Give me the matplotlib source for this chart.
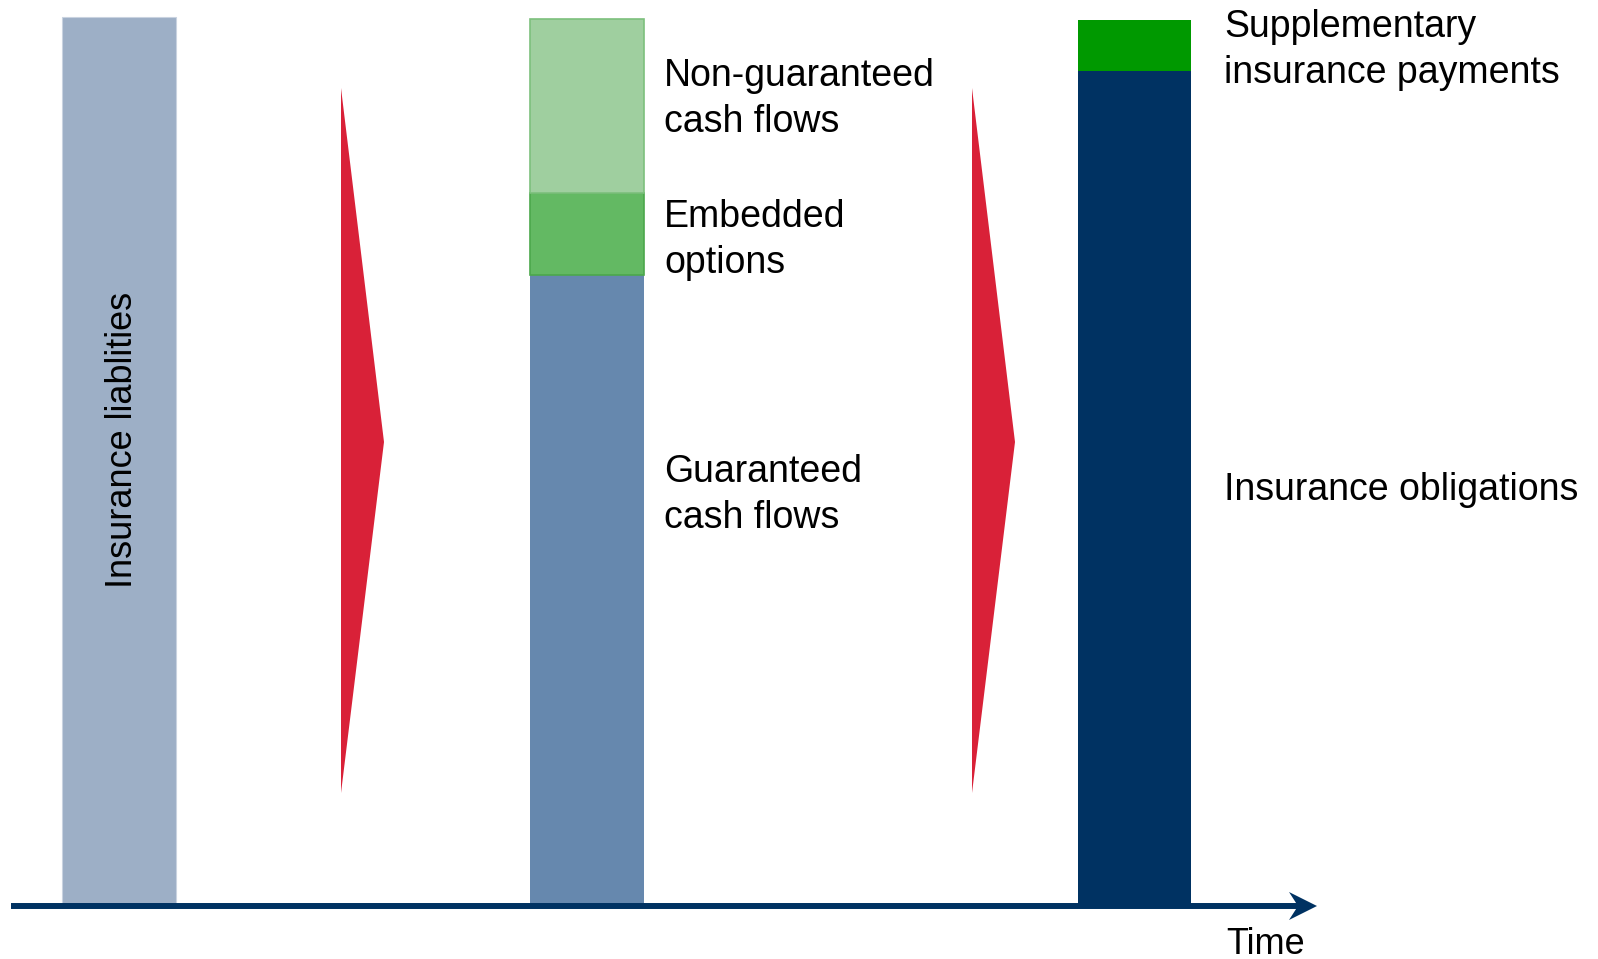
import matplotlib.pyplot as plt
from matplotlib.patches import Polygon

plt.rcParams['font.family'] = ['Liberation Sans', 'DejaVu Sans']

# Balkenpositionen und Segmenthöhen (Einheiten ~ Pixel über der Zeitachse)
bar_x = [119, 587, 1134.5]
bar_w = [114, 114, 113]

liab = [889]
guaranteed = [631]
embedded = [82]
non_guaranteed = [174]
obligations = [835]
supplementary = [51]

labels_mid = ["Non-guaranteed\ncash flows", "Embedded\noptions", "Guaranteed\ncash flows"]
labels_mid_y = [807, 666, 411]
labels_right = ["Supplementary\ninsurance payments", "Insurance obligations"]
labels_right_y = [856, 416]

# rote Pfeile (x links, x Spitze)
chevrons = [(341, 384), (972, 1015)]

fig = plt.figure(figsize=(15.98, 9.59), dpi=100)
ax = fig.add_axes([0, 0, 1, 1])
ax.set_xlim(0, 1598)
ax.set_ylim(-53, 906)
ax.axis('off')

# Balken 1
ax.bar(bar_x[0], liab, width=bar_w[0], bottom=0, color='#9DAFC6',
       edgecolor='#C9D3E0', linewidth=0.8)

# Balken 2
ax.bar(bar_x[1], guaranteed, width=bar_w[1], bottom=0, color='#6688AE')
ax.bar(bar_x[1], embedded, width=bar_w[1], bottom=guaranteed, color='#63B963',
       edgecolor='#4CA84C', linewidth=1.2)
ax.bar(bar_x[1], non_guaranteed, width=bar_w[1],
       bottom=[guaranteed[0] + embedded[0]], color='#9FCF9F',
       edgecolor='#7DC07D', linewidth=1.2)

# Balken 3
ax.bar(bar_x[2], obligations, width=bar_w[2], bottom=0, color='#003262')
ax.bar(bar_x[2], supplementary, width=bar_w[2], bottom=obligations, color='#009900')

# rote Dreiecke
for x0, x1 in chevrons:
    ax.add_patch(Polygon([(x0, 818), (x1, 464), (x0, 113)], closed=True,
                         facecolor='#D92138', edgecolor='none'))

# Zeitachse mit Pfeil
ax.plot([11, 1300], [0, 0], color='#003262', lw=4.3, solid_capstyle='butt')
ax.add_patch(Polygon([(1317, 0), (1289, 14), (1298, 0), (1289, -14)],
                     closed=True, facecolor='#003262', edgecolor='none'))
ax.text(1226, -48, "Time", fontsize=26, ha='left', va='baseline')

# Beschriftungen
ax.text(bar_x[0] + 4, 466, "Insurance liablities", fontsize=26, rotation=90,
        ha='center', va='center')
for lab, y in zip(labels_mid, labels_mid_y):
    ax.text(664, y, lab, fontsize=27, ha='left', va='center', linespacing=1.38)
for lab, y in zip(labels_right, labels_right_y):
    ax.text(1224, y, lab, fontsize=27, ha='left', va='center', linespacing=1.38)

fig.savefig("out.png", dpi=100)
